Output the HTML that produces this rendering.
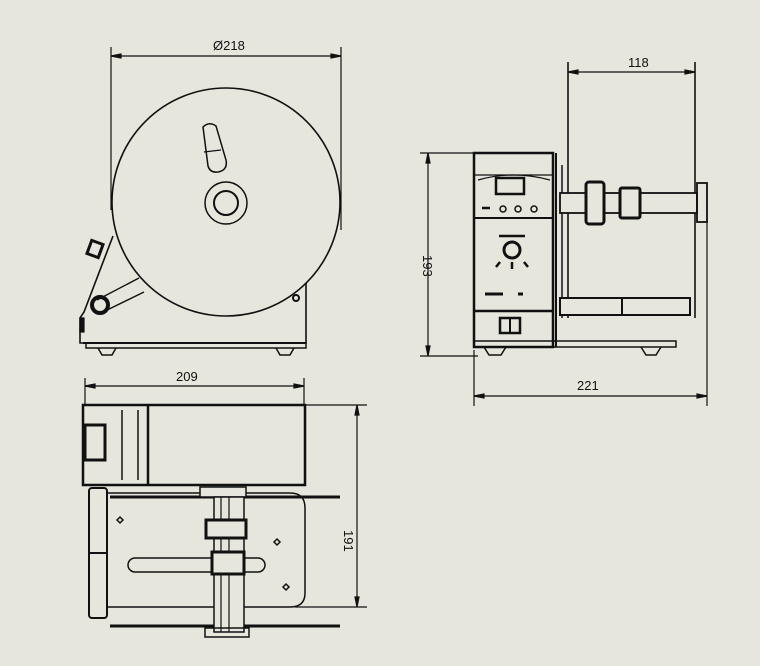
<!DOCTYPE html>
<html><head><meta charset="utf-8"><style>
html,body{margin:0;padding:0;background:#e6e6dd;}
svg{display:block}
text{font-family:"Liberation Sans",sans-serif;font-size:13px;fill:#111}
</style></head><body>
<svg width="760" height="666" viewBox="0 0 760 666" xmlns="http://www.w3.org/2000/svg">
<rect width="760" height="666" fill="#e6e6dd"/>
<g stroke="#111" fill="none" stroke-width="1.2">
<!-- FRONT VIEW -->
<line x1="111" y1="47" x2="111" y2="210"/>
<line x1="341" y1="47" x2="341" y2="230"/>
<line x1="111" y1="56" x2="341" y2="56"/>
<path d="M111 56 l10 -2 v4z M341 56 l-10 -2 v4z" fill="#111"/>
<path d="M306 280 V343 H80 V318 L84 312 L113 236" stroke-width="1.6"/>
<line x1="83" y1="343" x2="306" y2="343" stroke-width="2"/>
<rect x="86" y="343" width="220" height="5" stroke-width="1.5"/>
<path d="M98 348 l4 7 h10 l4 -7 M276 348 l4 7 h10 l4 -7" stroke-width="1.5"/>
<circle cx="226" cy="202" r="114" fill="#e6e6dd" stroke-width="1.6"/>
<path d="M97 300 L139 278 M103 312 L144 292" stroke-width="1.4"/>
<circle cx="100" cy="305" r="8" stroke-width="4"/>
<rect x="89" y="242" width="12" height="14" transform="rotate(20 95 249)" stroke-width="3"/>
<rect x="80" y="318" width="4" height="14" fill="#111"/>
<circle cx="296" cy="298" r="3" stroke-width="2"/>
<path d="M203 127 q6 -6 13 -1 l10 34 q2 10 -8 12 q-8 1 -10 -6 z" stroke-width="1.5"/>
<line x1="204" y1="152" x2="221" y2="150"/>
<circle cx="226" cy="203" r="21" stroke-width="1.5"/>
<circle cx="226" cy="203" r="12" stroke-width="2"/>
<!-- SIDE VIEW -->
<line x1="420" y1="153" x2="474" y2="153"/>
<line x1="420" y1="356" x2="478" y2="356"/>
<line x1="428" y1="153" x2="428" y2="356"/>
<path d="M428 153 l-2 10 h4z M428 356 l-2 -10 h4z" fill="#111"/>
<line x1="568" y1="62" x2="568" y2="318" stroke-width="1.6"/>
<line x1="695" y1="62" x2="695" y2="318" stroke-width="1.6"/>
<line x1="568" y1="72" x2="695" y2="72"/>
<path d="M568 72 l10 -2 v4z M695 72 l-10 -2 v4z" fill="#111"/>
<rect x="474" y="153" width="79" height="194" fill="#e6e6dd" stroke-width="2.5"/>
<line x1="474" y1="175" x2="553" y2="175"/>
<path d="M478 180 q35 -10 72 0" />
<rect x="496" y="178" width="28" height="16" stroke-width="2.5"/>
<line x1="482" y1="208" x2="490" y2="208" stroke-width="2.5"/>
<circle cx="503" cy="209" r="3" stroke-width="1.5"/>
<circle cx="518" cy="209" r="3" stroke-width="1.5"/>
<circle cx="534" cy="209" r="3" stroke-width="1.5"/>
<line x1="474" y1="218" x2="553" y2="218" stroke-width="2"/>
<circle cx="512" cy="250" r="8" stroke-width="3"/>
<path d="M499 236 h26 M500 262 l-4 5 M524 262 l4 5 M512 262 v7" stroke-width="2.5"/>
<path d="M485 294 h18 M518 294 h5" stroke-width="3"/>
<line x1="474" y1="311" x2="553" y2="311" stroke-width="2.5"/>
<rect x="500" y="318" width="20" height="15" stroke-width="2.5"/>
<line x1="510" y1="318" x2="510" y2="333" stroke-width="2"/>
<line x1="556" y1="153" x2="556" y2="347" stroke-width="2"/>
<line x1="562" y1="165" x2="562" y2="318" stroke-width="1.5"/>
<rect x="560" y="193" width="137" height="20" fill="#e6e6dd" stroke-width="1.8"/>
<rect x="586" y="182" width="18" height="42" rx="3" fill="#e6e6dd" stroke-width="3"/>
<rect x="620" y="188" width="20" height="30" rx="2" fill="#e6e6dd" stroke-width="3"/>
<rect x="697" y="183" width="10" height="39" stroke-width="1.8"/>
<rect x="560" y="298" width="130" height="17" fill="#e6e6dd" stroke-width="2"/>
<line x1="622" y1="298" x2="622" y2="315" stroke-width="2"/>
<rect x="474" y="341" width="202" height="6" stroke-width="1.5"/>
<path d="M484 347 l5 8 h12 l5 -8 M641 347 l5 8 h10 l5 -8" stroke-width="1.5"/>
<line x1="474" y1="350" x2="474" y2="406"/>
<line x1="707" y1="222" x2="707" y2="406"/>
<line x1="474" y1="396" x2="707" y2="396"/>
<path d="M474 396 l10 -2 v4z M707 396 l-10 -2 v4z" fill="#111"/>
<!-- TOP VIEW -->
<line x1="85" y1="378" x2="85" y2="405"/>
<line x1="304" y1="378" x2="304" y2="405"/>
<line x1="85" y1="386" x2="304" y2="386"/>
<path d="M85 386 l10 -2 v4z M304 386 l-10 -2 v4z" fill="#111"/>
<line x1="305" y1="405" x2="367" y2="405"/>
<line x1="295" y1="607" x2="367" y2="607"/>
<line x1="357" y1="405" x2="357" y2="607"/>
<path d="M357 405 l-2 10 h4z M357 607 l-2 -10 h4z" fill="#111"/>
<rect x="83" y="405" width="222" height="80" fill="#e6e6dd" stroke-width="2.5"/>
<line x1="148" y1="405" x2="148" y2="485" stroke-width="2.5"/>
<line x1="122" y1="410" x2="122" y2="480" stroke-width="1.5"/>
<line x1="138" y1="410" x2="138" y2="480" stroke-width="1.5"/>
<rect x="85" y="425" width="20" height="35" stroke-width="3"/>
<path d="M107 493 H290 Q305 493 305 508 V593 Q305 607 290 607 H107 Z" stroke-width="1.5"/>
<rect x="89" y="488" width="18" height="130" rx="3" fill="#e6e6dd" stroke-width="2"/>
<line x1="89" y1="553" x2="107" y2="553" stroke-width="2"/>
<line x1="110" y1="497" x2="340" y2="497" stroke-width="3"/>
<line x1="110" y1="626" x2="340" y2="626" stroke-width="3"/>
<rect x="200" y="487" width="46" height="10" fill="#e6e6dd" stroke-width="1.5"/>
<rect x="128" y="558" width="137" height="14" rx="7" stroke-width="1.5"/>
<rect x="214" y="497" width="30" height="135" fill="#e6e6dd" stroke-width="1.5"/>
<line x1="221" y1="497" x2="221" y2="632"/>
<line x1="229" y1="497" x2="229" y2="632"/>
<rect x="206" y="520" width="40" height="18" fill="#e6e6dd" stroke-width="3"/>
<rect x="212" y="552" width="32" height="22" fill="#e6e6dd" stroke-width="3"/>
<rect x="205" y="628" width="44" height="9" stroke-width="1.5"/>
<path d="M117 520 l3 -3 3 3 -3 3z M274 542 l3 -3 3 3 -3 3z M283 587 l3 -3 3 3 -3 3z" stroke-width="1.5"/>
</g>
<text x="213" y="50">Ø218</text>
<text x="628" y="67">118</text>
<text x="577" y="390">221</text>
<text x="176" y="381">209</text>
<text transform="translate(423 255) rotate(90)">193</text>
<text transform="translate(344 530) rotate(90)">191</text>
</svg>
</body></html>
